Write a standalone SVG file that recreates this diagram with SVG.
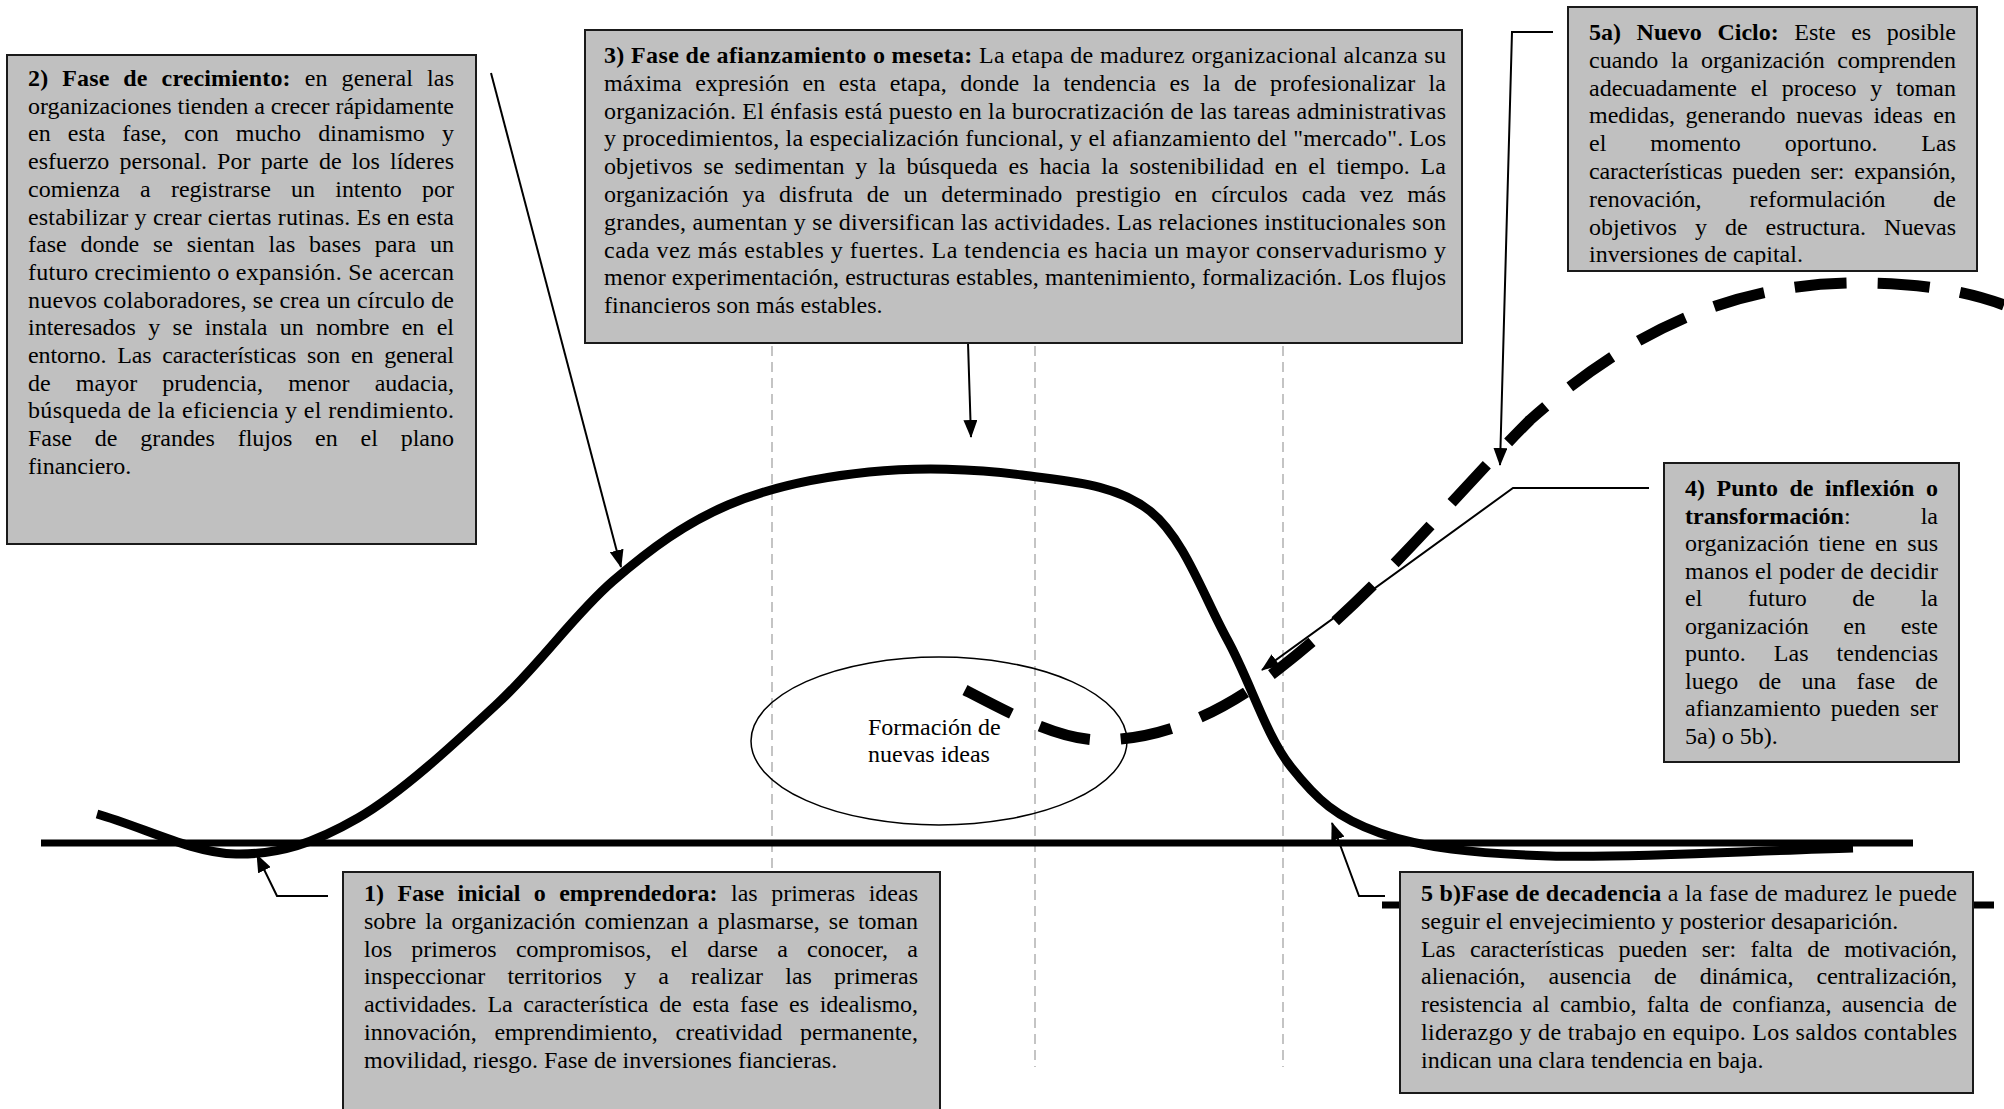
<svg xmlns="http://www.w3.org/2000/svg" width="2004" height="1109" viewBox="0 0 2004 1109">
<style>
.t{font-family:"Liberation Serif","Times New Roman",serif;font-size:24px;fill:#000}
.b{font-weight:bold}
.box{fill:#c0c0c0;stroke:#1a1a1a;stroke-width:2}
.arr{fill:none;stroke:#000;stroke-width:2;marker-end:url(#ah)}
.guide{stroke:#c4c4c4;stroke-width:2;stroke-dasharray:10 6}
</style>
<defs>
<marker id="ah" viewBox="0 0 18 14" refX="17" refY="7" markerWidth="18" markerHeight="14" markerUnits="userSpaceOnUse" orient="auto">
<path d="M0,0 L18,7 L0,14 z" fill="#000"/>
</marker>
<clipPath id="clip5a"><rect x="1569" y="8" width="407" height="257"/></clipPath>
</defs>
<rect width="2004" height="1109" fill="#fff"/>

<g id="guides">
<line class="guide" x1="772" y1="346" x2="772" y2="1067"/>
<line class="guide" x1="1035" y1="346" x2="1035" y2="1067"/>
<line class="guide" x1="1283" y1="346" x2="1283" y2="1067"/>
</g>

<g id="connectors">
<line x1="41" y1="843" x2="1913" y2="843" stroke="#000" stroke-width="7"/>
<line x1="1382" y1="905" x2="1994" y2="905" stroke="#000" stroke-width="7"/>
<path id="lifecycle" fill="none" stroke="#000" stroke-width="9" d="M 97,814 C 143,827 192.5,853.3 236,854 C 279.5,854.7 314.3,843.2 358,818 C 401.7,792.8 455.5,742.5 498,703 C 540.5,663.5 574.7,614 613,581 C 651.3,548 685.3,523.2 728,505 C 770.7,486.8 820,477 869,472 C 918,467 975.2,468.5 1022,475 C 1068.8,481.5 1115.8,483.7 1150,511 C 1184.2,538.3 1203.5,596.3 1227,639 C 1250.5,681.7 1265.5,734.7 1291,767 C 1316.5,799.3 1336.8,818.2 1380,833 C 1423.2,847.8 1471.2,853.5 1550,856 C 1628.8,858.5 1752,850.7 1853,848"/>
<path id="newcycle" fill="none" stroke="#000" stroke-width="11" stroke-dasharray="52 31" d="M 965,690 C 1015,716 1060,740 1100,740 C 1150,740 1210,723 1280,668 C 1380,590 1450,500 1530,420 C 1620,340 1720,285 1850,283 C 1920,282 1970,292 2004,305"/>
<line class="arr" x1="491" y1="73" x2="621" y2="567"/>
<line class="arr" x1="968" y1="343" x2="971" y2="437"/>
<polyline class="arr" points="1553,32 1512,32 1500,465"/>
<polyline class="arr" points="1649,488 1513,488 1262,670"/>
<polyline class="arr" points="1385,896 1359,896 1332,823"/>
<polyline class="arr" points="328,896 277,896 257,855"/>
</g>

<g id="ideas">
<ellipse cx="939" cy="741" rx="188" ry="84" fill="none" stroke="#000" stroke-width="1.5"/>
<text class="t" x="868" y="735">Formación de</text>
<text class="t" x="868" y="762">nuevas ideas</text>
</g>

<g id="fase2">
<rect class="box" x="7" y="55" width="469" height="489"/>
<text class="t" x="28" y="86" textLength="426" lengthAdjust="spacing" word-spacing="7.8"><tspan class="b">2) Fase de crecimiento:</tspan> en general las</text>
<text class="t" x="28" y="113.7" textLength="426" lengthAdjust="spacing">organizaciones tienden a crecer rápidamente</text>
<text class="t" x="28" y="141.4" textLength="426" lengthAdjust="spacing" word-spacing="11.2">en esta fase, con mucho dinamismo y</text>
<text class="t" x="28" y="169.1" textLength="426" lengthAdjust="spacing" word-spacing="4.2">esfuerzo personal. Por parte de los líderes</text>
<text class="t" x="28" y="196.8" textLength="426" lengthAdjust="spacing" word-spacing="14.2">comienza a registrarse un intento por</text>
<text class="t" x="28" y="224.5" textLength="426" lengthAdjust="spacing">estabilizar y crear ciertas rutinas. Es en esta</text>
<text class="t" x="28" y="252.2" textLength="426" lengthAdjust="spacing" word-spacing="7.8">fase donde se sientan las bases para un</text>
<text class="t" x="28" y="279.9" textLength="426" lengthAdjust="spacing">futuro crecimiento o expansión. Se acercan</text>
<text class="t" x="28" y="307.6" textLength="426" lengthAdjust="spacing">nuevos colaboradores, se crea un círculo de</text>
<text class="t" x="28" y="335.3" textLength="426" lengthAdjust="spacing" word-spacing="6.3">interesados y se instala un nombre en el</text>
<text class="t" x="28" y="363" textLength="426" lengthAdjust="spacing" word-spacing="5">entorno. Las características son en general</text>
<text class="t" x="28" y="390.7" textLength="426" lengthAdjust="spacing" word-spacing="19.2">de mayor prudencia, menor audacia,</text>
<text class="t" x="28" y="418.4" textLength="426" lengthAdjust="spacing">búsqueda de la eficiencia y el rendimiento.</text>
<text class="t" x="28" y="446.1" textLength="426" lengthAdjust="spacing" word-spacing="16.8">Fase de grandes flujos en el plano</text>
<text class="t" x="28" y="473.8">financiero.</text>
</g>

<g id="fase3">
<rect class="box" x="585" y="30" width="877" height="313"/>
<text class="t" x="604" y="63" textLength="842" lengthAdjust="spacing"><tspan class="b">3) Fase de afianzamiento o meseta:</tspan> La etapa de madurez organizacional alcanza su</text>
<text class="t" x="604" y="90.8" textLength="842" lengthAdjust="spacing" word-spacing="7.3">máxima expresión en esta etapa, donde la tendencia es la de profesionalizar la</text>
<text class="t" x="604" y="118.6" textLength="842" lengthAdjust="spacing">organización. El énfasis está puesto en la burocratización de las tareas administrativas</text>
<text class="t" x="604" y="146.4" textLength="842" lengthAdjust="spacing">y procedimientos, la especialización funcional, y el afianzamiento del "mercado". Los</text>
<text class="t" x="604" y="174.2" textLength="842" lengthAdjust="spacing" word-spacing="4.7">objetivos se sedimentan y la búsqueda es hacia la sostenibilidad en el tiempo. La</text>
<text class="t" x="604" y="202" textLength="842" lengthAdjust="spacing" word-spacing="7.7">organización ya disfruta de un determinado prestigio en círculos cada vez más</text>
<text class="t" x="604" y="229.8" textLength="842" lengthAdjust="spacing">grandes, aumentan y se diversifican las actividades. Las relaciones institucionales son</text>
<text class="t" x="604" y="257.6" textLength="842" lengthAdjust="spacing">cada vez más estables y fuertes. La tendencia es hacia un mayor conservadurismo y</text>
<text class="t" x="604" y="285.4" textLength="842" lengthAdjust="spacing">menor experimentación, estructuras estables, mantenimiento, formalización. Los flujos</text>
<text class="t" x="604" y="313.2">financieros son más estables.</text>
</g>

<g id="fase5a">
<rect class="box" x="1568" y="7" width="409" height="264"/>
<g clip-path="url(#clip5a)">
<text class="t" x="1589" y="40" textLength="367" lengthAdjust="spacing" word-spacing="9.6"><tspan class="b">5a) Nuevo Ciclo:</tspan> Este es posible</text>
<text class="t" x="1589" y="67.8" textLength="367" lengthAdjust="spacing" word-spacing="6.6">cuando la organización comprenden</text>
<text class="t" x="1589" y="95.6" textLength="367" lengthAdjust="spacing" word-spacing="7.8">adecuadamente el proceso y toman</text>
<text class="t" x="1589" y="123.4" textLength="367" lengthAdjust="spacing" word-spacing="4.6">medidas, generando nuevas ideas en</text>
<text class="t" x="1589" y="151.2" textLength="367" lengthAdjust="spacing" word-spacing="38">el momento oportuno. Las</text>
<text class="t" x="1589" y="179" textLength="367" lengthAdjust="spacing" word-spacing="4">características pueden ser: expansión,</text>
<text class="t" x="1589" y="206.8" textLength="367" lengthAdjust="spacing" word-spacing="42">renovación, reformulación de</text>
<text class="t" x="1589" y="234.6" textLength="367" lengthAdjust="spacing" word-spacing="12">objetivos y de estructura. Nuevas</text>
<text class="t" x="1589" y="262.4">inversiones de capital.</text>
</g>
</g>

<g id="fase4">
<rect class="box" x="1664" y="463" width="295" height="299"/>
<text class="t" x="1685" y="496" textLength="253" lengthAdjust="spacing" word-spacing="5.6"><tspan class="b">4) Punto de inflexión o</tspan></text>
<text class="t" x="1685" y="523.5" textLength="253" lengthAdjust="spacing" word-spacing="64"><tspan class="b">transformación</tspan>: la</text>
<text class="t" x="1685" y="551" textLength="253" lengthAdjust="spacing" word-spacing="3.7">organización tiene en sus</text>
<text class="t" x="1685" y="578.5" textLength="253" lengthAdjust="spacing">manos el poder de decidir</text>
<text class="t" x="1685" y="606" textLength="253" lengthAdjust="spacing" word-spacing="39.7">el futuro de la</text>
<text class="t" x="1685" y="633.5" textLength="253" lengthAdjust="spacing" word-spacing="28.6">organización en este</text>
<text class="t" x="1685" y="661" textLength="253" lengthAdjust="spacing" word-spacing="22">punto. Las tendencias</text>
<text class="t" x="1685" y="688.5" textLength="253" lengthAdjust="spacing" word-spacing="14.3">luego de una fase de</text>
<text class="t" x="1685" y="716" textLength="253" lengthAdjust="spacing" word-spacing="4">afianzamiento pueden ser</text>
<text class="t" x="1685" y="743.5">5a) o 5b).</text>
</g>

<g id="fase1">
<rect class="box" x="343" y="872" width="597" height="250"/>
<text class="t" x="364" y="901" textLength="554" lengthAdjust="spacing" word-spacing="7.4"><tspan class="b">1) Fase inicial o emprendedora:</tspan> las primeras ideas</text>
<text class="t" x="364" y="928.8" textLength="554" lengthAdjust="spacing" word-spacing="3">sobre la organización comienzan a plasmarse, se toman</text>
<text class="t" x="364" y="956.6" textLength="554" lengthAdjust="spacing" word-spacing="13.2">los primeros compromisos, el darse a conocer, a</text>
<text class="t" x="364" y="984.4" textLength="554" lengthAdjust="spacing" word-spacing="16.1">inspeccionar territorios y a realizar las primeras</text>
<text class="t" x="364" y="1012.2" textLength="554" lengthAdjust="spacing" word-spacing="4.9">actividades. La característica de esta fase es idealismo,</text>
<text class="t" x="364" y="1040" textLength="554" lengthAdjust="spacing" word-spacing="11.8">innovación, emprendimiento, creatividad permanente,</text>
<text class="t" x="364" y="1067.8">movilidad, riesgo. Fase de inversiones fiancieras.</text>
</g>

<g id="fase5b">
<rect class="box" x="1400" y="872" width="573" height="221"/>
<text class="t" x="1421" y="901" textLength="536" lengthAdjust="spacing"><tspan class="b">5 b)Fase de decadencia</tspan> a la fase de madurez le puede</text>
<text class="t" x="1421" y="928.8">seguir el envejecimiento y posterior desaparición.</text>
<text class="t" x="1421" y="956.6" textLength="536" lengthAdjust="spacing" word-spacing="8.8">Las características pueden ser: falta de motivación,</text>
<text class="t" x="1421" y="984.4" textLength="536" lengthAdjust="spacing" word-spacing="17">alienación, ausencia de dinámica, centralización,</text>
<text class="t" x="1421" y="1012.2" textLength="536" lengthAdjust="spacing" word-spacing="4.3">resistencia al cambio, falta de confianza, ausencia de</text>
<text class="t" x="1421" y="1040" textLength="536" lengthAdjust="spacing">liderazgo y de trabajo en equipo. Los saldos contables</text>
<text class="t" x="1421" y="1067.8">indican una clara tendencia en baja.</text>
</g>
</svg>
